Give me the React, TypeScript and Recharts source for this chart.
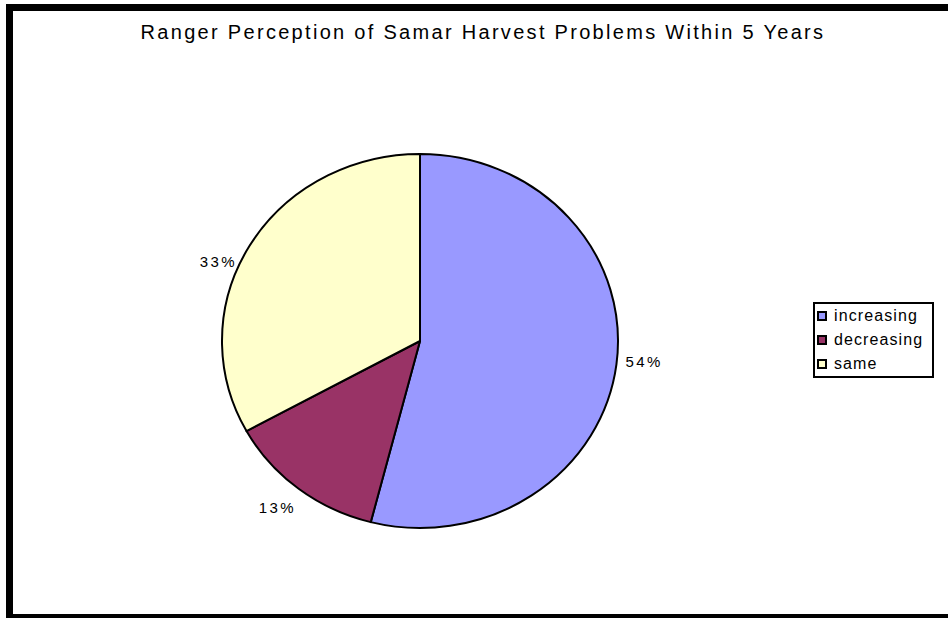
import React from 'react';
import { PieChart, Pie, Cell, Legend } from 'recharts';

const categories = ['increasing', 'decreasing', 'same'];
const values = [54, 13, 33];
const colors = ['#9999FF', '#993366', '#FFFFCC'];
const title = 'Ranger Perception of Samar Harvest Problems Within 5 Years';

const data = categories.map((name, i) => ({ name, value: values[i] }));

const FONT = '"Liberation Sans", Arial, sans-serif';
const RY_RATIO = 187 / 198;
const LABEL_GAP = 28;
const LABEL_NUDGE = [[0, -6], [-4, -3], [-7, 30]];

const rad = (a: number) => (a * Math.PI) / 180;

function EllipseSector(props: any) {
  const { cx, cy, outerRadius, startAngle, endAngle, fill } = props;
  const rx = outerRadius;
  const ry = outerRadius * RY_RATIO;
  const px = (a: number) => cx + rx * Math.cos(rad(a));
  const py = (a: number) => cy - ry * Math.sin(rad(a));
  const span = Math.abs(startAngle - endAngle);
  const large = span > 180 ? 1 : 0;
  const sweep = startAngle > endAngle ? 1 : 0;
  const d = `M ${cx} ${cy} L ${px(startAngle)} ${py(startAngle)} A ${rx} ${ry} 0 ${large} ${sweep} ${px(endAngle)} ${py(endAngle)} Z`;
  return <path d={d} fill={fill} stroke="#000" strokeWidth={2} strokeLinejoin="round" />;
}

function renderLabel(props: any) {
  const { cx, cy, midAngle, outerRadius, percent, index } = props;
  const rx = outerRadius + LABEL_GAP;
  const ry = outerRadius * RY_RATIO + LABEL_GAP;
  const nudge = LABEL_NUDGE[index] || [0, 0];
  const x = cx + rx * Math.cos(rad(midAngle)) + nudge[0];
  const y = cy - ry * Math.sin(rad(midAngle)) + nudge[1];
  return (
    <text
      x={x}
      y={y}
      textAnchor="middle"
      dominantBaseline="central"
      fontFamily={FONT}
      fontSize={15}
      letterSpacing={2.4}
      fill="#000"
    >
      {`${Math.round(percent * 100)}%`}
    </text>
  );
}

function LegendBox() {
  return (
    <div
      style={{
        border: '2px solid #000',
        background: '#fff',
        width: 121,
        padding: '0 0 0 2px',
        fontFamily: FONT,
        fontSize: 16,
        letterSpacing: 1.1,
        color: '#000',
        boxSizing: 'border-box',
      }}
    >
      {categories.map((c, i) => (
        <div key={c} style={{ display: 'flex', alignItems: 'center', height: 24, whiteSpace: 'nowrap' }}>
          <span
            style={{
              display: 'inline-block',
              width: 10,
              height: 10,
              boxSizing: 'border-box',
              border: '2px solid #000',
              background: colors[i],
              marginRight: 7,
            }}
          />
          <span>{c}</span>
        </div>
      ))}
    </div>
  );
}

export default function App() {
  return (
    <div
      style={{
        position: 'fixed',
        left: 0,
        top: 0,
        width: 948,
        height: 618,
        overflow: 'hidden',
        background: '#fff',
      }}
    >
      <div
        style={{
          position: 'absolute',
          left: 6,
          top: 4,
          width: 960,
          height: 617,
          border: '7px solid #000',
          boxSizing: 'border-box',
        }}
      />
      <div
        style={{
          position: 'absolute',
          left: 0,
          width: 966,
          top: 21,
          textAlign: 'center',
          fontFamily: FONT,
          fontSize: 20,
          letterSpacing: 2.3,
          color: '#000',
        }}
      >
        {title}
      </div>
      <div style={{ position: 'absolute', left: 0, top: 0 }}>
        <PieChart width={948} height={618} margin={{ top: 0, right: 0, bottom: 0, left: 0 }}>
          <Pie
            data={data}
            dataKey="value"
            nameKey="name"
            cx={420}
            cy={341}
            outerRadius={198}
            startAngle={90}
            endAngle={-270}
            isAnimationActive={false}
            shape={EllipseSector}
            label={renderLabel}
            labelLine={false}
            stroke="#000"
          >
            {data.map((d, i) => (
              <Cell key={d.name} fill={colors[i]} />
            ))}
          </Pie>
          <Legend
            content={() => <LegendBox />}
            wrapperStyle={{ position: 'absolute', left: 813, top: 302, width: 121 }}
          />
        </PieChart>
      </div>
    </div>
  );
}
